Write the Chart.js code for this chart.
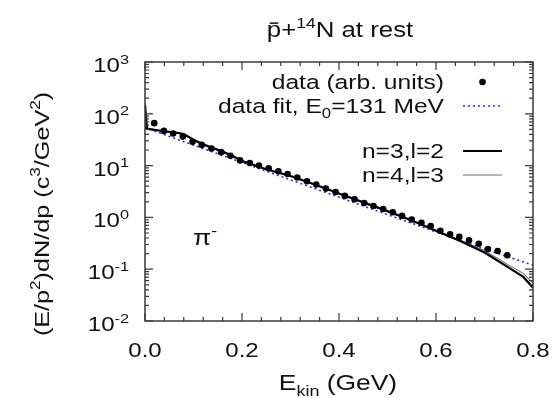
<!DOCTYPE html>
<html lang="en">
<head>
<meta charset="UTF-8">
<title>pbar + 14N at rest</title>
<script src="https://cdn.jsdelivr.net/npm/chart.js@4.4.0/dist/chart.umd.min.js"></script>
<style>
  body { margin: 0; background: #fff; }
  canvas { display: block; }
</style>
</head>
<body>
<canvas id="spectrum" width="554" height="398"></canvas>
<script>
// axis ticks
const xTicks = [0, 0.2, 0.4, 0.6, 0.8];
const xTickLabels = ['0.0', '0.2', '0.4', '0.6', '0.8'];
const yDecades = [-2, -1, 0, 1, 2, 3];

// data points (arb. units)
const dataE = [0.019, 0.039, 0.058, 0.078, 0.098, 0.117, 0.137, 0.157, 0.176, 0.196,
               0.216, 0.235, 0.255, 0.275, 0.294, 0.314, 0.334, 0.353, 0.373, 0.393,
               0.412, 0.432, 0.452, 0.471, 0.491, 0.511, 0.530, 0.550, 0.570, 0.589,
               0.609, 0.629, 0.648, 0.668, 0.688, 0.707, 0.727, 0.747];
const dataV = [66, 46.8, 41.7, 36.3, 28.8, 25.1, 21.4, 18.2, 15.5, 12.6,
               11.2, 10.0, 8.9, 7.8, 6.9, 5.9, 5.0, 4.3, 3.6, 3.1,
               2.6, 2.24, 1.9, 1.66, 1.45, 1.26, 1.07, 0.91, 0.79, 0.68,
               0.55, 0.47, 0.42, 0.36, 0.31, 0.245, 0.224, 0.186];

// data fit, E0 = 131 MeV
const fitE = [0, 0.1, 0.2, 0.3, 0.4, 0.5, 0.6, 0.7, 0.8];
const fitV = [54, 24.8, 11.5, 5.3, 2.45, 1.13, 0.525, 0.245, 0.12];

// n=3, l=2
const n3E = [0, 0.004, 0.02, 0.04, 0.06, 0.08, 0.10, 0.12, 0.14, 0.16, 0.18, 0.20,
             0.25, 0.30, 0.35, 0.40, 0.45, 0.50, 0.55, 0.60, 0.65, 0.70, 0.75, 0.78, 0.80];
const n3V = [150, 52, 49, 46, 44, 40.7, 31.6, 25.7, 21.9, 18.6, 15.5, 12.3,
             8.5, 6.3, 4.3, 2.9, 1.95, 1.32, 0.87, 0.55, 0.35, 0.21, 0.107, 0.071, 0.044];

// n=4, l=3
const n4E = [0, 0.004, 0.02, 0.04, 0.06, 0.08, 0.10, 0.12, 0.14, 0.16, 0.18, 0.20,
             0.25, 0.30, 0.35, 0.40, 0.45, 0.50, 0.55, 0.60, 0.65, 0.70, 0.75, 0.78, 0.80];
const n4V = [130, 51, 48, 45, 43, 40, 31.3, 25.5, 21.7, 18.4, 15.4, 12.2,
             8.4, 6.2, 4.25, 2.9, 1.95, 1.33, 0.88, 0.56, 0.363, 0.229, 0.12, 0.083, 0.054];

const pts = (xs, ys) => xs.map((x, i) => ({ x: x, y: ys[i] }));

const FONT = '"Liberation Sans", Arial, Helvetica, sans-serif';
const SX = 1.2; // text in the original is a bit wider than Arial

function partFont(p, size) {
    const s = p.s ? size * 0.68 : size;
    return s + 'px ' + FONT;
}
function richWidth(ctx, parts, size) {
    let w = 0;
    parts.forEach(p => { ctx.font = partFont(p, size); w += ctx.measureText(p.t).width; });
    return w;
}
// draw text with superscripts / subscripts, stretched horizontally
function drawRich(ctx, parts, x, y, size, align) {
    ctx.save();
    ctx.translate(x, y);
    ctx.scale(SX, 1);
    ctx.fillStyle = '#111';
    ctx.textBaseline = 'alphabetic';
    ctx.textAlign = 'left';
    const w = richWidth(ctx, parts, size);
    let cx = align === 'right' ? -w : (align === 'center' ? -w / 2 : 0);
    parts.forEach(p => {
        ctx.font = partFont(p, size);
        let dy = 0;
        if (p.s === 'sup') dy = -size * 0.42;
        if (p.s === 'sub') dy = size * 0.25;
        const pw = ctx.measureText(p.t).width;
        ctx.fillText(p.t, cx, dy);
        if (p.bar) {
            ctx.fillRect(cx + pw * 0.2, -size * 0.68, pw * 0.6, size * 0.07);
        }
        cx += pw;
    });
    ctx.restore();
}

const framePlugin = {
    id: 'frame',
    afterDraw(chart) {
        const ctx = chart.ctx;
        const a = chart.chartArea;
        const xs = chart.scales.x, ys = chart.scales.y;
        ctx.save();
        ctx.strokeStyle = '#3a3a3a';
        ctx.lineWidth = 1.5;
        ctx.strokeRect(a.left, a.top, a.right - a.left, a.bottom - a.top);

        ctx.lineWidth = 1.2;
        ctx.beginPath();
        // x ticks: major 0.2, minor 0.04
        for (let i = 0; i <= 20; i++) {
            const v = i * 0.04;
            const px = xs.getPixelForValue(v);
            const len = (i % 5 === 0) ? 8 : 4;
            ctx.moveTo(px, a.bottom); ctx.lineTo(px, a.bottom - len);
            ctx.moveTo(px, a.top); ctx.lineTo(px, a.top + len);
        }
        // y ticks: decades + minor 2..9
        yDecades.forEach(d => {
            for (let m = 1; m <= 9; m++) {
                const v = m * Math.pow(10, d);
                if (v > 1000.0001) continue;
                const py = ys.getPixelForValue(v);
                const len = (m === 1) ? 8 : 4;
                ctx.moveTo(a.left, py); ctx.lineTo(a.left + len, py);
                ctx.moveTo(a.right, py); ctx.lineTo(a.right - len, py);
            }
        });
        ctx.stroke();
        ctx.restore();

        // tick labels
        xTicks.forEach((v, i) => {
            drawRich(ctx, [{ t: xTickLabels[i] }], xs.getPixelForValue(v), a.bottom + 36, 20, 'center');
        });
        yDecades.forEach(d => {
            drawRich(ctx, [{ t: '10' }, { t: String(d), s: 'sup' }],
                     a.left - 16, ys.getPixelForValue(Math.pow(10, d)) + 10, 20, 'right');
        });

        // title
        drawRich(ctx, [{ t: 'p', bar: true }, { t: '+' }, { t: '14', s: 'sup' }, { t: 'N at rest' }],
                 340, 37, 21.5, 'center');

        // axis titles
        drawRich(ctx, [{ t: 'E' }, { t: 'kin', s: 'sub' }, { t: ' (GeV)' }], 338, 390, 22, 'center');
        ctx.save();
        ctx.translate(49, 214);
        ctx.rotate(-Math.PI / 2);
        drawRich(ctx, [{ t: '(E/p' }, { t: '2', s: 'sup' }, { t: ')dN/dp (c' }, { t: '3', s: 'sup' },
                       { t: '/GeV' }, { t: '2', s: 'sup' }, { t: ')' }], 0, 0, 21, 'center');
        ctx.restore();

        // particle label
        drawRich(ctx, [{ t: '\u03C0' }, { t: '-', s: 'sup' }], 193, 245, 22, 'left');

        // legend
        const textR = 444, s0 = 463, s1 = 502;
        drawRich(ctx, [{ t: 'data (arb. units)' }], textR, 89, 20.5, 'right');
        drawRich(ctx, [{ t: 'data fit, E' }, { t: '0', s: 'sub' }, { t: '=131 MeV' }], textR, 113, 20.5, 'right');
        drawRich(ctx, [{ t: 'n=3,l=2' }], textR, 158, 20.5, 'right');
        drawRich(ctx, [{ t: 'n=4,l=3' }], textR, 182, 20.5, 'right');

        ctx.save();
        ctx.fillStyle = '#000';
        ctx.beginPath();
        ctx.arc((s0 + s1) / 2, 82, 3.3, 0, Math.PI * 2);
        ctx.fill();
        ctx.strokeStyle = '#2a2aff';
        ctx.lineWidth = 1.6;
        ctx.setLineDash([2, 3]);
        ctx.beginPath(); ctx.moveTo(s0, 106); ctx.lineTo(s1, 106); ctx.stroke();
        ctx.setLineDash([]);
        ctx.strokeStyle = '#000';
        ctx.lineWidth = 2.2;
        ctx.beginPath(); ctx.moveTo(s0, 151); ctx.lineTo(s1, 151); ctx.stroke();
        ctx.strokeStyle = '#6e6e6e';
        ctx.lineWidth = 1.1;
        ctx.beginPath(); ctx.moveTo(s0, 175); ctx.lineTo(s1, 175); ctx.stroke();
        ctx.restore();
    }
};

new Chart(document.getElementById('spectrum'), {
    type: 'scatter',
    data: {
        datasets: [
            {
                label: 'data (arb. units)',
                data: pts(dataE, dataV),
                showLine: false,
                pointRadius: 3.3,
                pointBackgroundColor: '#000',
                pointBorderWidth: 0,
                order: 0
            },
            {
                label: 'data fit, E0=131 MeV',
                data: pts(fitE, fitV),
                showLine: true,
                borderColor: '#2a2aff',
                borderWidth: 1.6,
                borderDash: [2, 3],
                pointRadius: 0,
                order: 3
            },
            {
                label: 'n=3,l=2',
                data: pts(n3E, n3V),
                showLine: true,
                borderColor: '#000',
                borderWidth: 2.2,
                pointRadius: 0,
                order: 1
            },
            {
                label: 'n=4,l=3',
                data: pts(n4E, n4V),
                showLine: true,
                borderColor: '#6e6e6e',
                borderWidth: 1.1,
                pointRadius: 0,
                order: 2
            }
        ]
    },
    options: {
        responsive: false,
        animation: false,
        devicePixelRatio: 1,
        layout: { padding: { left: 145, right: 21, top: 62, bottom: 77 } },
        plugins: { legend: { display: false }, tooltip: { enabled: false }, title: { display: false } },
        scales: {
            x: { type: 'linear', min: 0, max: 0.8, display: false },
            y: { type: 'logarithmic', min: 0.01, max: 1000, display: false }
        }
    },
    plugins: [framePlugin]
});
</script>
</body>
</html>
